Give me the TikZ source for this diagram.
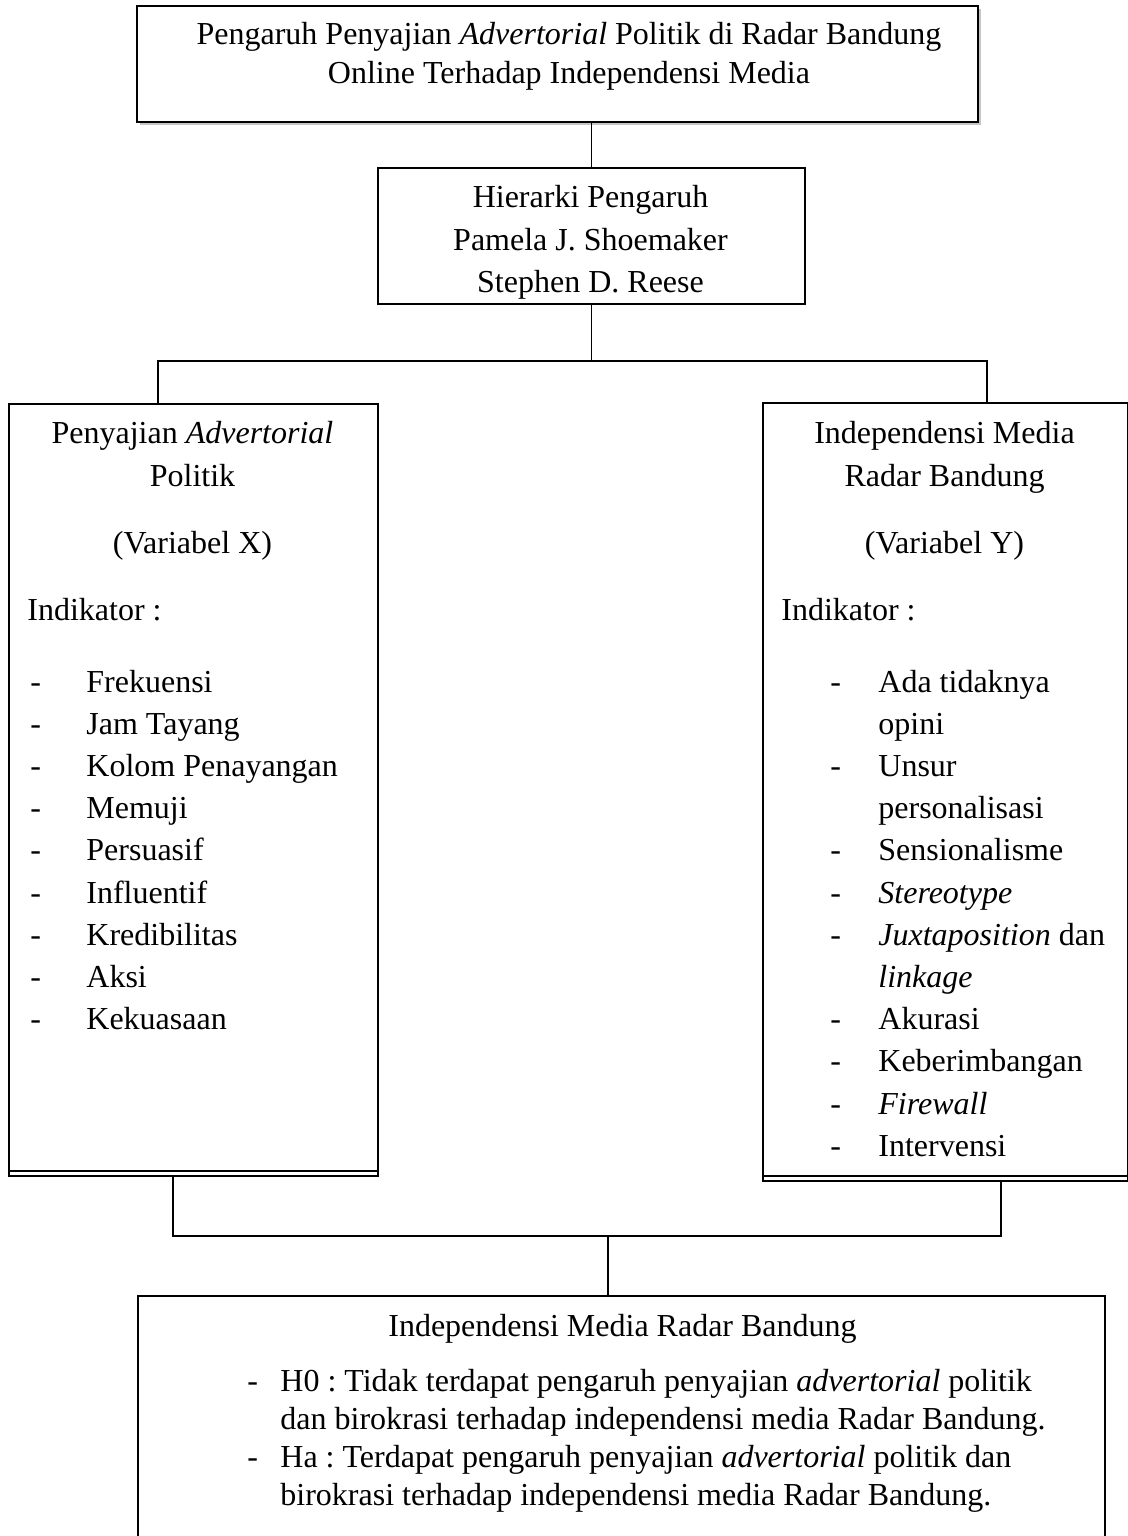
\documentclass[tikz,border=0pt]{standalone}
\usepackage{fontspec}
\setmainfont{Liberation Serif}
\usetikzlibrary{shadows}
\begin{document}
\frenchspacing
\begin{tikzpicture}[x=0.5pt,y=-0.5pt,
  box/.style={draw, line width=0.9pt, inner sep=0pt, anchor=north west, fill=white},
  txt/.style={inner sep=0pt, anchor=base, font=\fontsize{16}{21}\selectfont\frenchspacing},
  ltxt/.style={txt, anchor=base west},
  conn/.style={line width=0.9pt}]
\clip (0,0) rectangle (1128,1536);
\fill[white] (0,0) rectangle (1128,1536);
% boxes
\node[box, minimum width=420.5pt, minimum height=58pt,
      drop shadow={shadow xshift=1.5pt, shadow yshift=-1.5pt, opacity=0.45}] (top) at (136,5) {};
\node[box, minimum width=213.5pt, minimum height=68pt] (mid) at (377,167) {};
\node[box, minimum width=184.5pt, minimum height=386pt] (left) at (8,403) {};
\node[box, minimum width=182.5pt, minimum height=389pt] (right) at (762,402) {};
\node[box, minimum width=483.5pt, minimum height=132.5pt] (bot) at (137,1295) {};
% double bottom lines of the side boxes
\coordinate (lb2) at (8,1171);
\coordinate (rb2) at (762,1176);
\draw[conn] (lb2) -- (lb2 -| left.east);
\draw[conn] (rb2) -- (rb2 -| right.east);
% connectors
\coordinate (jl) at (158,361);
\coordinate (jr) at (987,361);
\coordinate (bl) at (173,1236);
\coordinate (br) at (1001,1236);
\coordinate (bm) at (608,1236);
\draw[conn] (top.south -| mid.north) -- (mid.north);
\draw[conn] (mid.south) -- (mid.south |- jl);
\draw[conn] (left.north -| jl) -- (jl) -- (jr) -- (right.north -| jr);
\draw[conn] (left.south -| bl) -- (bl) -- (br) -- (right.south -| br);
\draw[conn] (bm) -- (bot.north -| bm);
% top text
\node[txt] (t1) at (569,45) {Pengaruh Penyajian \textit{Advertorial} Politik di Radar Bandung};
\node[txt] (t2) at (569,84) {Online Terhadap Independensi Media};
% middle text
\node[txt] (m1) at (590.5,207) {Hierarki Pengaruh};
\node[txt] (m2) at (590.5,250) {Pamela J. Shoemaker};
\node[txt] (m3) at (590.5,292) {Stephen D. Reese};
% left box text
\node[txt] (l1) at (192.5,443) {Penyajian \textit{Advertorial}};
\node[txt] (l2) at (192.5,486) {Politik};
\node[txt] (l3) at (192.5,553) {(Variabel X)};
\node[ltxt] (l4) at (27,620) {Indikator :};
\foreach \t [count=\i] in {Frekuensi, Jam Tayang, Kolom Penayangan, Memuji, Persuasif, Influentif, Kredibilitas, Aksi, Kekuasaan}{
  \node[ltxt] (ld\i) at ({30},{692+42.2*(\i-1)}) {-};
  \node[ltxt] (li\i) at ({86},{692+42.2*(\i-1)}) {\t};
}
% right box text
\node[txt] (r1) at (944.5,443) {Independensi Media};
\node[txt] (r2) at (944.5,486) {Radar Bandung};
\node[txt] (r3) at (944.5,553) {(Variabel Y)};
\node[ltxt] (r4) at (781,620) {Indikator :};
\foreach \d/\t [count=\i] in {1/Ada tidaknya, 0/opini, 1/Unsur, 0/personalisasi, 1/Sensionalisme, 1/\textit{Stereotype}, 1/\textit{Juxtaposition} dan, 0/\textit{linkage}, 1/Akurasi, 1/Keberimbangan, 1/\textit{Firewall}, 1/Intervensi}{
  \ifnum\d=1
  \node[ltxt] (rd\i) at ({830},{692+42.2*(\i-1)}) {-};
  \fi
  \node[ltxt] (ri\i) at ({878},{692+42.2*(\i-1)}) {\t};
}
% bottom box text
\node[txt] (b0) at (622.5,1336) {Independensi Media Radar Bandung};
\node[ltxt] (bd1) at (247,1391) {-};
\node[ltxt] (b1) at (280,1391) {H0 : Tidak terdapat pengaruh penyajian \textit{advertorial} politik};
\node[ltxt] (b2) at (280,1429) {dan birokrasi terhadap independensi media Radar Bandung.};
\node[ltxt] (bd2) at (247,1467) {-};
\node[ltxt] (b3) at (280,1467) {Ha : Terdapat pengaruh penyajian \textit{advertorial} politik dan};
\node[ltxt] (b4) at (280,1505) {birokrasi terhadap independensi media Radar Bandung.};
\end{tikzpicture}
\end{document}
